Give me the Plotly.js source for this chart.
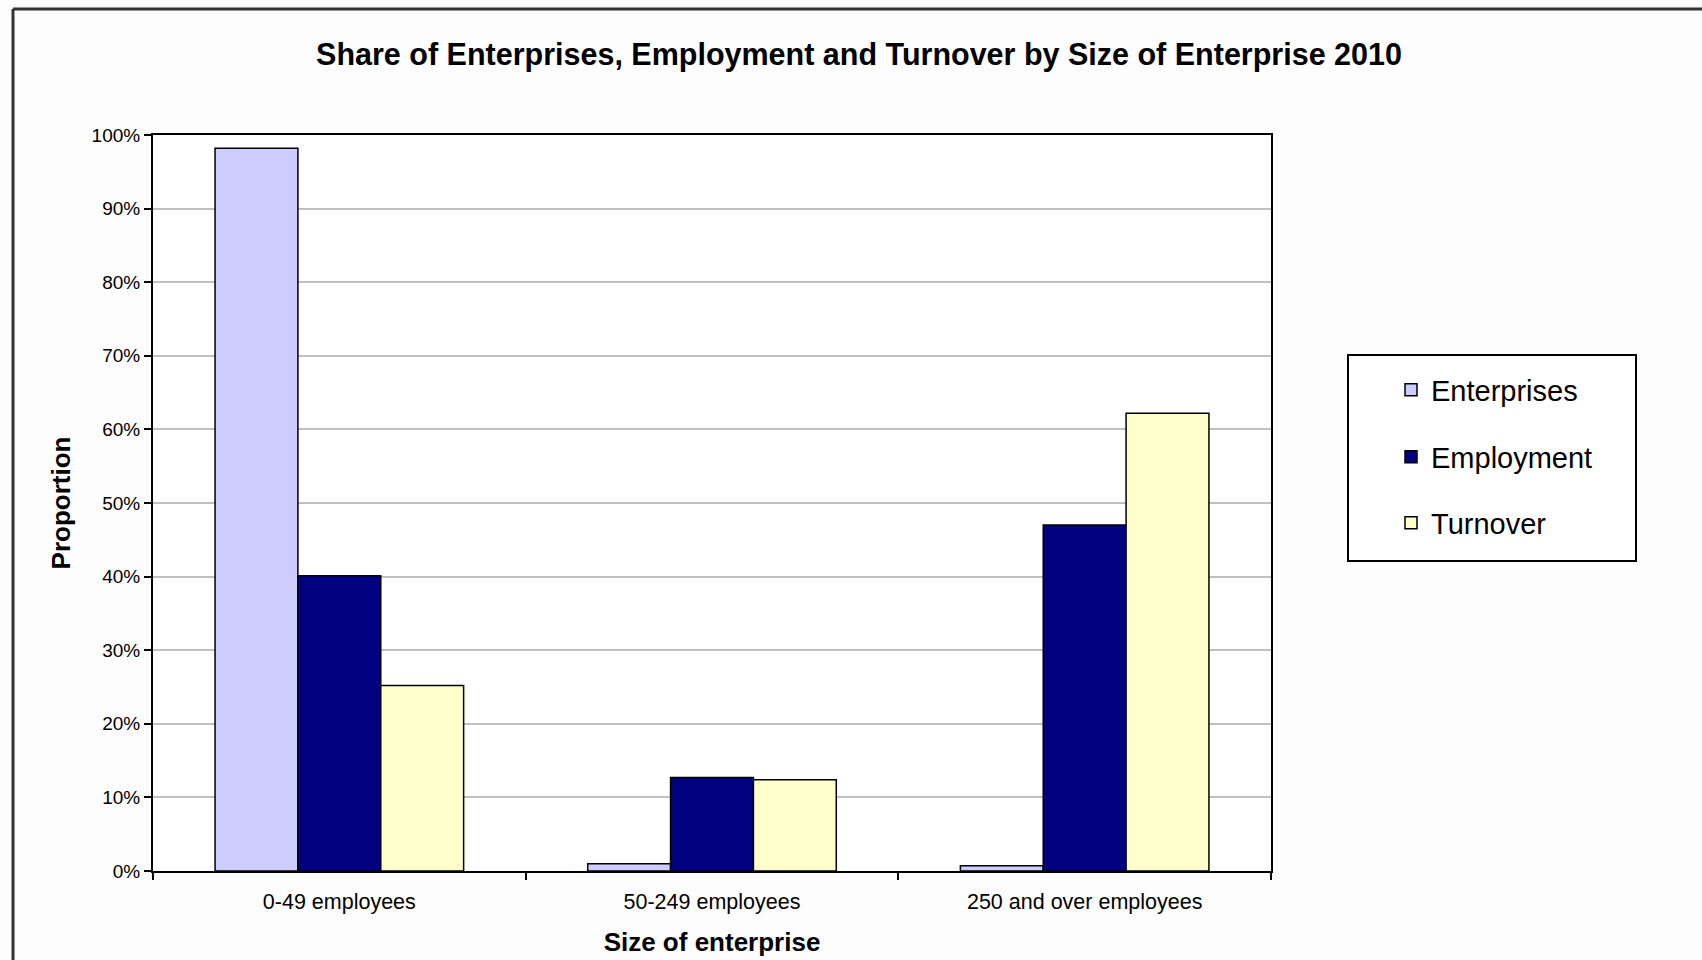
<!DOCTYPE html>
<html>
<head>
<meta charset="utf-8">
<script src="https://cdn.plot.ly/plotly-3.0.1.min.js"></script>
<style>
html, body { margin: 0; padding: 0; background: #fdfdfd; }
#chart { width: 1702px; height: 960px; }
</style>
</head>
<body>
<div id="chart"></div>
<script>
const categories = ["0-49 employees", "50-249 employees", "250 and over employees"];
const enterprises = [98.2, 1.0, 0.7];
const employment = [40.1, 12.7, 47.0];
const turnover = [25.2, 12.4, 62.2];
const seriesNames = ["Enterprises", "Employment", "Turnover"];
const seriesColors = ["#CCCCFF", "#000080", "#FFFFCC"];
const yTickVals = [0, 10, 20, 30, 40, 50, 60, 70, 80, 90, 100];

const FONT = "'Liberation Sans', Arial, sans-serif";
const L = 153, R = 431, T = 135, B = 89, W = 1702, H = 960;
const pw = W - L - R, ph = H - T - B;
const px = v => (v - L) / pw;
const py = v => (H - B - v) / ph;

const legendIds = ["legend", "legend2", "legend3"];
const legendY = [390, 457, 523];

const seriesData = [enterprises, employment, turnover];
const traces = seriesData.map((vals, i) => ({
  type: "bar",
  name: seriesNames[i],
  x: categories,
  y: vals,
  legend: legendIds[i],
  marker: { color: seriesColors[i], line: { color: "#000000", width: 1.5 } },
  hoverinfo: "skip"
}));

const layout = {
  width: W, height: H,
  margin: { l: L, r: R, t: T, b: B, pad: 0 },
  paper_bgcolor: "#fdfdfd",
  plot_bgcolor: "#ffffff",
  font: { family: FONT, color: "#000000" },
  title: {
    text: "<b>Share of Enterprises, Employment and Turnover by Size of Enterprise 2010</b>",
    font: { family: FONT, size: 30.5, color: "#000000" },
    x: 859 / W, xanchor: "center",
    xref: "container", yref: "container",
    y: 1 - 54 / H, yanchor: "middle"
  },
  barmode: "group",
  bargap: 0.333,
  bargroupgap: 0,
  xaxis: {
    type: "category",
    showline: true, linecolor: "#000000", linewidth: 2, mirror: true,
    ticks: "outside", tickson: "boundaries", ticklen: 7, tickwidth: 2, tickcolor: "#000000",
    ticklabelstandoff: 10,
    tickfont: { family: FONT, size: 21.5, color: "#000000" },
    showgrid: false,
    title: { text: "<b>Size of enterprise</b>", font: { family: FONT, size: 26, color: "#000000" }, standoff: 20 }
  },
  yaxis: {
    range: [0, 100],
    tickvals: yTickVals,
    ticktext: yTickVals.map(v => v + "%"),
    showline: true, linecolor: "#000000", linewidth: 2, mirror: true,
    ticks: "outside", ticklen: 7, tickwidth: 2, tickcolor: "#000000",
    tickfont: { family: FONT, size: 19, color: "#000000" },
    showgrid: true, gridcolor: "#c0c0c0", gridwidth: 2,
    zeroline: false,
    title: { text: "<b>Proportion</b>", font: { family: FONT, size: 26, color: "#000000" }, standoff: 13 }
  },
  showlegend: true,
  shapes: [
    { type: "rect", xref: "paper", yref: "paper",
      x0: px(1348), x1: px(1636), y0: py(561), y1: py(355),
      line: { color: "#000000", width: 2 }, fillcolor: "rgba(255,255,255,1)", layer: "below" },
    { type: "line", xref: "paper", yref: "paper",
      x0: px(13), x1: px(13), y0: py(980), y1: py(9),
      line: { color: "#333333", width: 3 } },
    { type: "line", xref: "paper", yref: "paper",
      x0: px(13), x1: px(1720), y0: py(9), y1: py(9),
      line: { color: "#333333", width: 3 } }
  ]
};

legendIds.forEach((id, i) => {
  layout[id] = {
    x: px(1391), xanchor: "left",
    y: py(legendY[i]), yanchor: "middle",
    bgcolor: "rgba(0,0,0,0)", borderwidth: 0,
    font: { family: FONT, size: 29, color: "#000000" }
  };
});

Plotly.newPlot("chart", traces, layout, { displayModeBar: false, staticPlot: true });
</script>
</body>
</html>
